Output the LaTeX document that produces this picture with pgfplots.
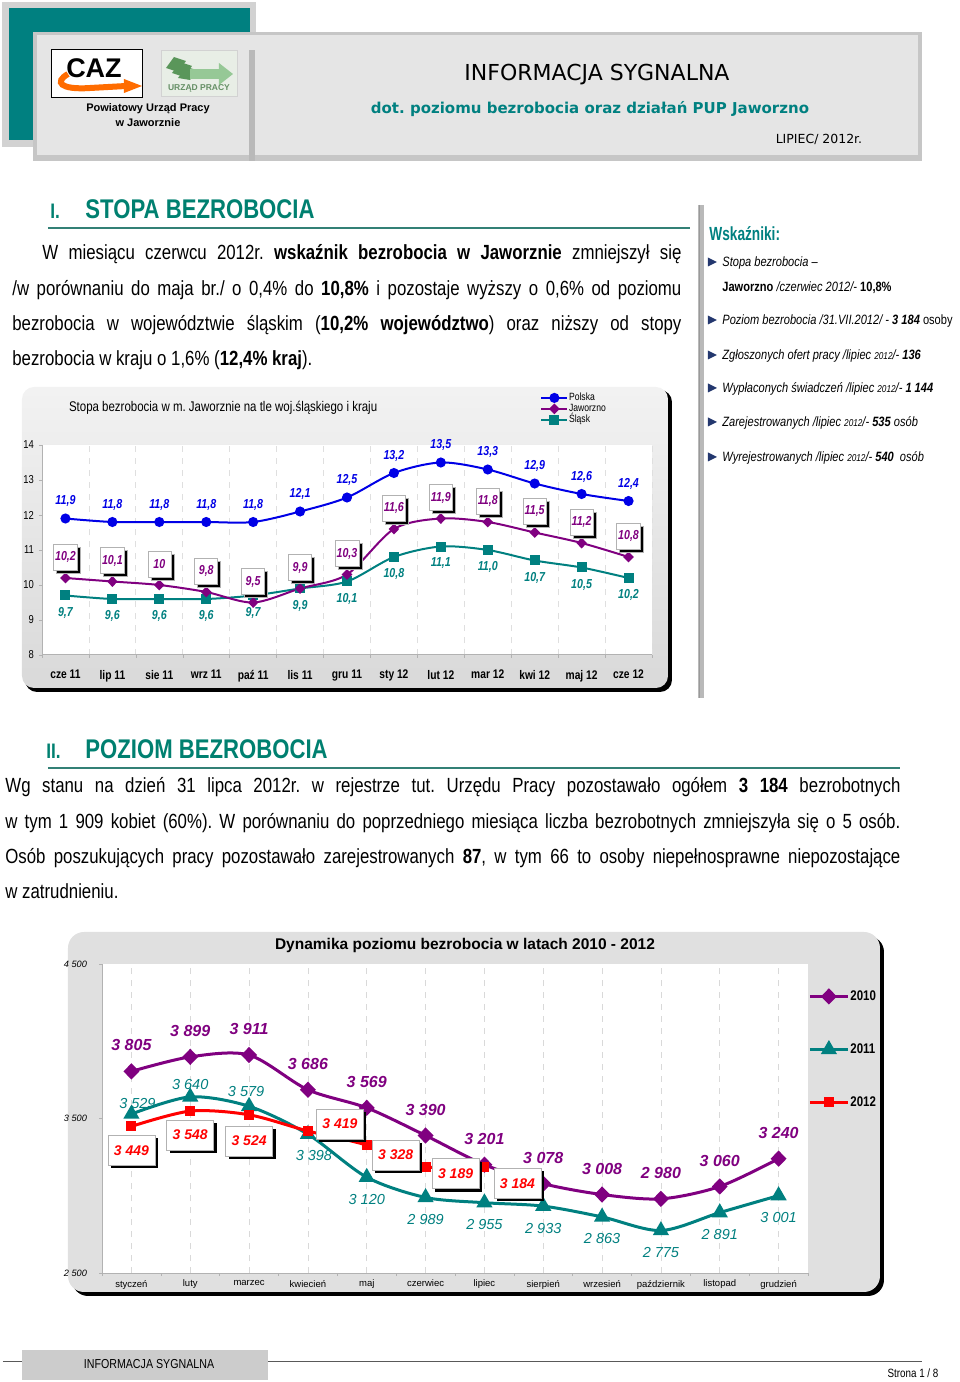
\documentclass[border=0pt]{standalone}
\usepackage{fontspec}
\setmainfont{Liberation Sans}
\newfontfamily\narrow{Liberation Sans}[FakeStretch=0.82]
\newfontfamily\condfont{Liberation Sans}[FakeStretch=0.72]
\newfontfamily\hdr{DejaVu Sans}
\usepackage{pgfplots}
\usepackage{pgfplotstable}
\pgfplotsset{compat=1.18}
\usetikzlibrary{shadows,arrows.meta}
\pgfkeys{/pgf/number format/assume math mode=true}
\newcommand\fsz[1]{\fontsize{#1bp}{#1bp}\selectfont}
\definecolor{hteal}{RGB}{0,128,128}
\definecolor{steal}{RGB}{0,128,112}
\definecolor{cpol}{RGB}{0,0,230}
\definecolor{cjaw}{RGB}{128,0,128}
\definecolor{csl}{RGB}{0,128,128}
\definecolor{cred}{RGB}{255,0,0}
\definecolor{navy1}{RGB}{35,55,110}
\definecolor{lgreen}{RGB}{150,200,150}
\definecolor{dgreen}{RGB}{90,150,90}
\definecolor{logobg}{RGB}{232,238,230}
\tikzset{lbox/.style={draw=gray!60, line width=0.3bp, fill=white,
  drop shadow={shadow xshift=1.5bp, shadow yshift=-1.5bp, fill=black, opacity=1}}}
\pgfplotsset{
  l11/.style 2 args={forget plot, draw=none, mark=none,
    nodes near coords={\pgfmathprintnumber[fixed,precision=0,1000 sep={\ }]{\pgfplotspointmeta}},
    every node near coord/.append style={font=\itshape\fsz{7.25}, text=csl, anchor=center, xshift=#1, yshift=#2}},
  l12/.style 2 args={forget plot, draw=none, mark=none,
    nodes near coords={\pgfmathprintnumber[fixed,precision=0,1000 sep={\ }]{\pgfplotspointmeta}},
    every node near coord/.append style={lbox, font=\bfseries\itshape\fsz{7}, text=cred, anchor=center, xshift=#1, yshift=#2, minimum width=23.5bp, minimum height=15bp, inner sep=1bp}},
}

\pgfplotstableread{
x P J S
0 11.9 10.2 9.7
1 11.8 10.1 9.6
2 11.8 10.0 9.6
3 11.8 9.8 9.6
4 11.8 9.5 9.7
5 12.1 9.9 9.9
6 12.5 10.3 10.1
7 13.2 11.6 10.8
8 13.5 11.9 11.1
9 13.3 11.8 11.0
10 12.9 11.5 10.7
11 12.6 11.2 10.5
12 12.4 10.8 10.2
}\stopa

\pgfplotstableread{
x A B
0 3805 3529
1 3899 3640
2 3911 3579
3 3686 3398
4 3569 3120
5 3390 2989
6 3201 2955
7 3078 2933
8 3008 2863
9 2980 2775
10 3060 2891
11 3240 3001
}\tAB

\pgfplotstableread{
x y
0 3449
1 3548
2 3524
3 3419
4 3328
5 3189
6 3184
}\tC

\frenchspacing
\begin{document}
\begin{tikzpicture}
\begin{scope}[x=0.5bp,y=-0.5bp]
\path (0,0) rectangle (960,1382);
% ---------- header ----------
\fill[gray!35] (2,2) rectangle (256,147);
\fill[hteal] (9,8) rectangle (250,140);
\fill[gray!45] (33,32) rectangle (922,161);
\fill[gray!20] (37,35) rectangle (918,155);
\fill[gray!55] (249,50) rectangle (255,161);
% CAZ logo
\draw[black, line width=0.5bp, fill=white] (52,50) rectangle (143,98);
\draw[line width=3bp, color=orange!85!red] (68,74) .. controls (54,82) and (60,90) .. (90,88) -- (126,86);
\fill[orange!85!red] (124,79) -- (142,86) -- (124,93) -- cycle;
\node[font=\bfseries\fsz{13.5}] at (94,68) {CAZ};
% Urzad logo
\draw[gray!35, line width=0.4bp, fill=logobg] (161,50) rectangle (237,96);
\fill[dgreen] (166,68) -- (174,57) -- (186,61) -- (178,72) -- cycle;
\fill[dgreen] (172,73) -- (180,62) -- (192,66) -- (184,77) -- cycle;
\fill[dgreen] (178,78) -- (186,67) -- (197,70) -- (190,80) -- cycle;
\fill[lgreen] (190,69) rectangle (220,79);
\fill[lgreen] (219,63) -- (233,74) -- (219,85) -- cycle;
\node[font=\bfseries\fsz{4.25}, text=dgreen!70!gray] at (199,88) {URZĄD PRACY};
\node[font=\bfseries\fsz{5.5}] at (148,109) {Powiatowy Urząd Pracy};
\node[font=\bfseries\fsz{5.5}] at (148,123) {w Jaworznie};
\node[font=\hdr\fsz{11}] at (597,75) {INFORMACJA SYGNALNA};
\node[font=\hdr\bfseries\fsz{7.5}, text=hteal] at (590,109) {dot. poziomu bezrobocia oraz działań PUP Jaworzno};
\node[font=\hdr\fsz{6.25}] at (819,139) {LIPIEC/ 2012r.};
% ---------- section I ----------
\node[anchor=base west, inner sep=0pt, font=\narrow\bfseries\fsz{10.5}, text=steal] at (50,219) {I.};
\node[anchor=base west, inner sep=0pt, font=\narrow\bfseries\fsz{13.5}, text=steal] at (85,219) {STOPA BEZROBOCIA};
\draw[steal!60!gray, line width=0.8bp] (48,228) -- (690,228);
\begin{scope}[every node/.style={anchor=base west, inner sep=0pt, font=\narrow\fsz{10.25}}]
\node at (42,260) {\makebox[319.5bp][s]{W miesiącu czerwcu 2012r. \textbf{wskaźnik bezrobocia w Jaworznie} zmniejszył się}};
\node at (12,296) {\makebox[334.5bp][s]{/w porównaniu do maja br./ o 0,4\% do \textbf{10,8\%} i pozostaje wyższy o 0,6\% od poziomu}};
\node at (12,331) {\makebox[334.5bp][s]{bezrobocia w województwie śląskim (\textbf{10,2\% województwo}) oraz niższy od stopy}};
\node at (12,366) {bezrobocia w kraju o 1,6\% (\textbf{12,4\% kraj}).};
\end{scope}
% ---------- right panel ----------
\fill[gray!55] (698,205) rectangle (704,698);
\draw[gray!80, line width=0.4bp] (699,205) -- (699,698);
\node[anchor=base west, inner sep=0pt, font=\condfont\bfseries\fsz{9.5}, text=hteal] at (709,241) {Wskaźniki:};
\foreach \yy in {262,320,355,388,422,457}{\fill[navy1] (708,\yy-4.5) -- (717,\yy) -- (708,\yy+4.5) -- cycle;}
\begin{scope}[every node/.style={anchor=base west, inner sep=0pt, font=\narrow\fsz{6.75}}]
\node at (722,266.5) {\textit{Stopa bezrobocia –}};
\node at (722,291.5) {\textbf{Jaworzno} \textit{/czerwiec 2012/-} \textbf{10,8\%}};
\node at (722,324.5) {\textit{Poziom bezrobocia /31.VII.2012/ -} \textbf{\textit{3 184}} osoby};
\node at (722,359.5) {\textit{Zgłoszonych ofert pracy /lipiec {\fsz{5}2012}/-} \textbf{\textit{136}}};
\node at (722,392.5) {\textit{Wypłaconych świadczeń /lipiec {\fsz{5}2012}/-} \textbf{\textit{1 144}}};
\node at (722,426.5) {\textit{Zarejestrowanych /lipiec {\fsz{5}2012}/-} \textbf{\textit{535}} \textit{osób}};
\node at (722,461.5) {\textit{Wyrejestrowanych /lipiec {\fsz{5}2012}/-} \textbf{\textit{540}}\ \ \textit{osób}};
\end{scope}
% ---------- chart 1 frame ----------
\fill[black, rounded corners=6bp] (25,390) rectangle (672,692);
\shade[top color=gray!10, bottom color=gray!30, rounded corners=6bp] (22,387) rectangle (668,688);
\fill[white] (42,445) rectangle (652,655);
\node[anchor=west, font=\narrow\fsz{7}] at (62,408) {Stopa bezrobocia w m. Jaworznie na tle woj.śląskiego i kraju};
% ---------- section II ----------
\node[anchor=base west, inner sep=0pt, font=\narrow\bfseries\fsz{10.5}, text=steal] at (46,759) {II.};
\node[anchor=base west, inner sep=0pt, font=\narrow\bfseries\fsz{13.5}, text=steal] at (85,759) {POZIOM BEZROBOCIA};
\draw[steal!60!gray, line width=0.8bp] (48,768) -- (900,768);
\begin{scope}[every node/.style={anchor=base west, inner sep=0pt, font=\narrow\fsz{10.25}}]
\node at (5,793) {\makebox[447.5bp][s]{Wg stanu na dzień 31 lipca 2012r. w rejestrze tut. Urzędu Pracy pozostawało ogółem \textbf{3 184} bezrobotnych}};
\node at (5,829) {\makebox[447.5bp][s]{w tym 1 909 kobiet (60\%). W porównaniu do poprzedniego miesiąca liczba bezrobotnych zmniejszyła się o 5 osób.}};
\node at (5,864) {\makebox[447.5bp][s]{Osób poszukujących pracy pozostawało zarejestrowanych \textbf{87}, w tym 66 to osoby niepełnosprawne niepozostające}};
\node at (5,899) {w zatrudnieniu.};
\end{scope}
% ---------- chart 2 frame ----------
\fill[black, rounded corners=8bp] (72,936) rectangle (884,1296);
\fill[gray!24, rounded corners=8bp] (68,932) rectangle (880,1292);
\fill[white] (102,964) rectangle (808,1273);
\node[font=\bfseries\fsz{7.75}] at (465,946) {Dynamika poziomu bezrobocia w latach 2010 - 2012};
% ---------- footer ----------
\fill[gray!40] (22,1350) rectangle (268,1380);
\draw[gray!70!black, line width=0.5bp] (3,1362) -- (22,1362) (268,1362) -- (922,1362);
\node[font=\narrow\fsz{6.5}] at (149,1364) {INFORMACJA SYGNALNA};
\node[font=\narrow\fsz{6}] at (913,1373) {Strona 1 / 8};
\end{scope}

% ================= chart 1 =================
\begin{axis}[
  at={(21bp,-222.5bp)}, anchor=north west, scale only axis,
  width=305bp, height=105bp,
  xmin=-0.5, xmax=12.5, ymin=8, ymax=14,
  axis x line*=bottom, axis y line*=left,
  axis line style={gray!60, line width=0.5bp},
  xtick={0,...,12},
  xticklabels={cze 11,lip 11,sie 11,wrz 11,paź 11,lis 11,gru 11,sty 12,lut 12,mar 12,kwi 12,maj 12,cze 12},
  minor xtick={-0.5,0.5,...,12.5},
  major x tick style={draw=none},
  minor tick style={gray!60},
  xminorgrids, minor x grid style={gray!25, dashed, line width=0.4bp},
  ytick={8,...,14},
  y tick style={gray!60},
  tick align=outside, major tick length=1.5bp, minor tick length=1.5bp,
  xticklabel style={font=\narrow\bfseries\fsz{6.25}, yshift=-2.5bp},
  yticklabel style={font=\narrow\fsz{5.75}, xshift=1bp},
  clip=false,
  legend style={at={(0.8164,1.2524)}, anchor=north west, draw=none, fill=none,
    inner sep=0pt, row sep=0pt, font=\narrow\fsz{5.25},
    nodes={inner sep=0.3bp, text height=3.8bp, text depth=1.1bp}},
  legend cell align=left,
  legend image code/.code={\draw[mark repeat=2,mark phase=2] plot coordinates {(0bp,0bp) (6.5bp,0bp) (13bp,0bp)};},
]
\addplot[color=cpol, line width=1bp, smooth, mark=*, mark size=2bp, mark options={solid},
  nodes near coords={\pgfmathprintnumber[fixed,precision=1,use comma]{\pgfplotspointmeta}},
  every node near coord/.append style={font=\narrow\bfseries\itshape\fsz{6.5}, text=cpol, anchor=center, yshift=8.75bp}]
  table[x=x,y=P]{\stopa};
\addlegendentry{Polska}
\addplot[forget plot, color=csl, line width=1bp, smooth, mark=square*, mark size=2bp, mark options={solid},
  nodes near coords={\pgfmathprintnumber[fixed,fixed zerofill,precision=1,use comma]{\pgfplotspointmeta}},
  every node near coord/.append style={font=\narrow\bfseries\itshape\fsz{6.5}, text=csl, anchor=center, yshift=-8.5bp}]
  table[x=x,y=S]{\stopa};
\addplot[color=cjaw, line width=1bp, smooth, mark=diamond*, mark size=2bp, mark options={solid, xscale=1.3},
  nodes near coords={\pgfmathprintnumber[fixed,precision=1,use comma]{\pgfplotspointmeta}},
  every node near coord/.append style={lbox, font=\narrow\bfseries\itshape\fsz{6.5}, text=cjaw, anchor=center, yshift=10.5bp, minimum width=11.5bp, minimum height=13bp, inner sep=0.8bp}]
  table[x=x,y=J]{\stopa};
\addlegendentry{Jaworzno}
\addlegendimage{color=csl, line width=1bp, mark=square*, mark size=2bp, mark options={solid}}
\addlegendentry{Śląsk}
\end{axis}

% ================= chart 2 =================
\begin{axis}[
  at={(51bp,-482bp)}, anchor=north west, scale only axis,
  width=353bp, height=154.5bp,
  xmin=-0.5, xmax=11.5, ymin=2500, ymax=4500,
  axis x line*=bottom, axis y line*=left,
  axis line style={gray!60, line width=0.5bp},
  xtick={0,...,11},
  xticklabels={styczeń,luty,marzec,kwiecień,maj,czerwiec,lipiec,sierpień,wrzesień,październik,listopad,grudzień},
  xmajorgrids, major x grid style={gray!30, dashed, line width=0.4bp},
  major x tick style={draw=none},
  minor xtick={-0.5,0.5,...,11.5},
  minor tick style={gray!60},
  ytick={2500,3500,4500},
  y tick style={gray!60},
  /pgf/number format/1000 sep={\ },
  tick align=outside, major tick length=1.5bp, minor tick length=1.5bp,
  xticklabel style={font=\fsz{4.75}, yshift=1.5bp},
  yticklabel style={font=\itshape\fsz{4.6}, xshift=-2.5bp},
  clip=false,
  legend style={at={(1.0,0.919)}, anchor=north west, draw=none, fill=none,
    inner sep=0pt, row sep=19.5bp, font=\narrow\bfseries\fsz{7},
    nodes={inner sep=0.5bp, text height=5bp, text depth=1bp}},
  legend cell align=left,
  legend image code/.code={\draw[mark repeat=2,mark phase=2] plot coordinates {(0bp,0bp) (9.5bp,0bp) (19bp,0bp)};},
]
\addplot[color=cjaw, line width=1.5bp, smooth, mark=diamond*, mark size=3bp, mark options={solid, xscale=1.3},
  nodes near coords={\pgfmathprintnumber[fixed,precision=0,1000 sep={\ }]{\pgfplotspointmeta}},
  every node near coord/.append style={font=\bfseries\itshape\fsz{8}, text=cjaw, anchor=center, yshift=13bp}]
  table[x=x,y=A]{\tAB};
\addlegendentry{2010}
\addplot[color=csl, line width=1.5bp, smooth, mark=triangle*, mark size=3.2bp, mark options={solid}]
  table[x=x,y=B]{\tAB};
\addlegendentry{2011}
\addplot[color=cred, line width=1.5bp, smooth, mark=square*, mark size=1.75bp, mark options={solid}]
  table[x=x,y=y]{\tC};
\addlegendentry{2012}
% 2011 labels
\addplot[l11={3bp}{5.5bp}] coordinates {(0,3529)};
\addplot[l11={0bp}{6bp}] coordinates {(1,3640)};
\addplot[l11={-1.5bp}{7.5bp}] coordinates {(2,3579)};
\addplot[l11={3bp}{-10.5bp}] coordinates {(3,3398)};
\addplot[l11={0bp}{-11bp}] coordinates {(4,3120) (5,2989) (6,2955) (7,2933) (8,2863) (9,2775) (10,2891) (11,3001)};
% 2012 labels
\addplot[l12={0bp}{-12bp}] coordinates {(0,3449) (1,3548)};
\addplot[l12={0bp}{-13bp}] coordinates {(2,3524)};
\addplot[l12={16bp}{3.5bp}] coordinates {(3,3419)};
\addplot[l12={14.5bp}{-5bp}] coordinates {(4,3328)};
\addplot[l12={15bp}{-3.5bp}] coordinates {(5,3189)};
\addplot[l12={16.5bp}{-8bp}] coordinates {(6,3184)};
\end{axis}
\pgfresetboundingbox
\path[use as bounding box] (0,0) rectangle (480bp,-691bp);
\end{tikzpicture}
\end{document}
